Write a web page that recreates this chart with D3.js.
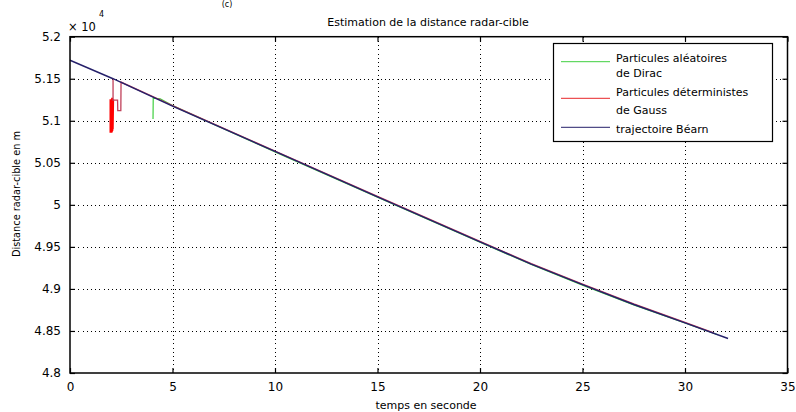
<!DOCTYPE html>
<html>
<head>
<meta charset="utf-8">
<script src="https://cdn.jsdelivr.net/npm/d3@7"></script>
<style>
  html, body { margin: 0; padding: 0; background: #fff; }
  svg { display: block; }
  text { font-family: "DejaVu Sans", sans-serif; fill: #000; }
</style>
</head>
<body>
<svg id="chart" width="796" height="412"></svg>
<script>
// ---- data (time in seconds, distance in metres) ----
const xTicks = [0, 5, 10, 15, 20, 25, 30, 35];
const yTicks = [48000, 48500, 49000, 49500, 50000, 50500, 51000, 51500, 52000];
const yTickLabels = ["4.8", "4.85", "4.9", "4.95", "5", "5.05", "5.1", "5.15", "5.2"];

const bearnT = [0, 2.1, 5, 10, 15, 20, 22.5, 25, 27.5, 30, 32.1];
const bearnD = [51720, 51500, 51175, 50635, 50095, 49560, 49295, 49050, 48815, 48597, 48410];

const gaussT = [2.0, 2.0, 2.02, 2.02, 2.04, 2.04, 2.06, 2.06, 2.08, 2.08, 2.1, 2.1, 2.1, 2.32, 2.33, 2.48, 2.49, 5, 10, 15, 20, 22.5, 25, 27.5, 30, 31.4];
const gaussD = [51255, 50857, 51255, 50870, 51250, 50880, 51255, 50900, 51250, 51255, 51255, 51500, 51246, 51246, 51120, 51120, 51460, 51182, 50640, 50100, 49565, 49301, 49056, 48821, 48603, 48478];

const diracT = [4.05, 4.06, 4.4, 5, 10, 15, 20, 22.5, 25, 27.5, 30, 31.6];
const diracD = [51020, 51270, 51262, 51180, 50630, 50090, 49555, 49290, 49045, 48811, 48594, 48455];

const seriesNames = ["Particules aléatoires|de Dirac", "Particules déterministes|de Gauss", "trajectoire Béarn"];
const seriesColors = ["#3fcf3f", "#e8262a", "#25206a"];

// ---- layout ----
const svg = d3.select("#chart");
const L = 70, R = 787.5, T = 36.7, B = 373;
const x = d3.scaleLinear().domain([0, 35]).range([L, R]);
const y = d3.scaleLinear().domain([48000, 52000]).range([B, T]);

// grid
const grid = svg.append("g").attr("stroke", "#000").attr("stroke-width", 1)
  .attr("stroke-dasharray", "1,3.2").attr("shape-rendering", "crispEdges");
grid.selectAll(".gx").data(xTicks.slice(1, -1)).join("line")
  .attr("x1", d => Math.round(x(d)) + 0.5).attr("x2", d => Math.round(x(d)) + 0.5)
  .attr("y1", T).attr("y2", B);
grid.selectAll(".gy").data(yTicks.slice(1, -1)).join("line")
  .attr("y1", d => Math.round(y(d)) + 0.5).attr("y2", d => Math.round(y(d)) + 0.5)
  .attr("x1", L).attr("x2", R);

// series
const line = d3.line().x(d => x(d[0])).y(d => y(d[1]));
const diracPts = diracT.map((t, i) => [t, diracD[i]]);
const gaussPts = gaussT.map((t, i) => [t, gaussD[i]]);
const bearnPts = bearnT.map((t, i) => [t, bearnD[i]]);

svg.append("path").attr("d", line(diracPts)).attr("fill", "none")
  .attr("stroke", seriesColors[0]).attr("stroke-width", 1.2);
svg.append("path").attr("d", line(gaussPts.slice(0, 11))).attr("fill", "none")
  .attr("stroke", "#ff0000").attr("stroke-width", 3);
svg.append("path").attr("d", line(gaussPts.slice(10))).attr("fill", "none")
  .attr("stroke", "#c0405a").attr("stroke-width", 1.3);
svg.append("path").attr("d", line(bearnPts)).attr("fill", "none")
  .attr("stroke", seriesColors[2]).attr("stroke-width", 1.4);

// axes (inward ticks, box)
const fmtY = d => yTickLabels[yTicks.indexOf(d)];
const axB = svg.append("g").attr("transform", `translate(0,${B})`)
  .call(d3.axisBottom(x).tickValues(xTicks).tickSize(-5).tickPadding(9).tickFormat(d3.format("d")));
const axT = svg.append("g").attr("transform", `translate(0,${T})`)
  .call(d3.axisTop(x).tickValues(xTicks).tickSize(-5).tickFormat(""));
const axL = svg.append("g").attr("transform", `translate(${L},0)`)
  .call(d3.axisLeft(y).tickValues(yTicks).tickSize(-5).tickPadding(9).tickFormat(fmtY));
const axR = svg.append("g").attr("transform", `translate(${R},0)`)
  .call(d3.axisRight(y).tickValues(yTicks).tickSize(-5).tickFormat(""));
[axB, axT, axL, axR].forEach(a => {
  a.select(".domain").remove();
  a.selectAll("line").attr("stroke", "#000").attr("stroke-width", 1.2);
  a.selectAll("text").attr("font-family", "DejaVu Sans").attr("font-size", 12).attr("fill", "#000");
});
svg.append("rect").attr("x", L).attr("y", T).attr("width", R - L).attr("height", B - T)
  .attr("fill", "none").attr("stroke", "#000").attr("stroke-width", 1.5);

// exponent
svg.append("text").attr("x", 68).attr("y", 31).attr("font-size", 11.5).text("× 10");
svg.append("text").attr("x", 99).attr("y", 17).attr("font-size", 8).text("4");

// title and labels
svg.append("text").attr("x", 428).attr("y", 26).attr("text-anchor", "middle")
  .attr("font-size", 11).text("Estimation de la distance radar-cible");
svg.append("text").attr("x", 426).attr("y", 409).attr("text-anchor", "middle")
  .attr("font-size", 11).text("temps en seconde");
svg.append("text").attr("transform", "translate(20,194) rotate(-90)").attr("text-anchor", "middle")
  .attr("font-family", "Liberation Sans Narrow, DejaVu Sans Condensed, sans-serif")
  .attr("font-size", 9.8).text("Distance radar-cible en m");
svg.append("text").attr("x", 227).attr("y", 7).attr("text-anchor", "middle")
  .attr("font-size", 8).text("(c)");

// legend
const lg = svg.append("g");
lg.append("rect").attr("x", 553.5).attr("y", 43.5).attr("width", 219).attr("height", 98)
  .attr("fill", "#fff").attr("stroke", "#000").attr("stroke-width", 1.2);
const legLineY = [61.7, 98.3, 127.3];
const legTextY = [[62, 77], [96, 114], [133]];
seriesNames.forEach((name, i) => {
  lg.append("line").attr("x1", 561).attr("x2", 610).attr("y1", legLineY[i]).attr("y2", legLineY[i])
    .attr("stroke", seriesColors[i]).attr("stroke-width", 1);
  name.split("|").forEach((part, j) => {
    lg.append("text").attr("x", 616).attr("y", legTextY[i][j]).attr("font-size", 11).text(part);
  });
});
</script>
</body>
</html>
